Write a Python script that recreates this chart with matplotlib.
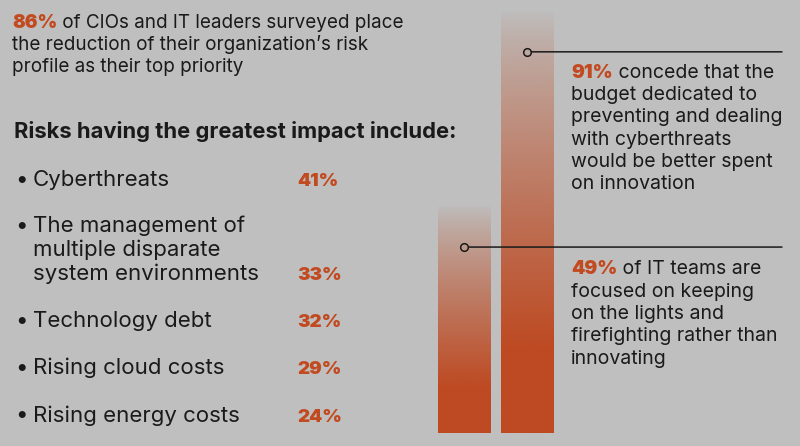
import numpy as np
import matplotlib
matplotlib.use("Agg")
import matplotlib.pyplot as plt

# --- data -------------------------------------------------------------
intro_pct = "86%"
intro_lines = ["of CIOs and IT leaders surveyed place",
               "the reduction of their organization\u2019s risk",
               "profile as their top priority"]
heading = "Risks having the greatest impact include:"

risk_labels = [["Cyberthreats"],
               ["The management of", "multiple disparate", "system environments"],
               ["Technology debt"],
               ["Rising cloud costs"],
               ["Rising energy costs"]]
risk_pcts = [41, 33, 32, 29, 24]

bar_values = [49, 91]
marker_levels = [40, 82]
callout_pcts = ["49%", "91%"]
callout_lines = [["of IT teams are", "focused on keeping", "on the lights and",
                  "firefighting rather than", "innovating"],
                 ["concede that the", "budget dedicated to", "preventing and dealing",
                  "with cyberthreats", "would be better spent", "on innovation"]]

# --- style ------------------------------------------------------------
BG = "#bfbfbf"
ORANGE = "#c24a20"
BAR = "#bd4a22"
INK = "#1a1a1a"
W, H = 800, 446
plt.rcParams["font.family"] = ["Inter", "DejaVu Sans"]

fig = plt.figure(figsize=(W / 100, H / 100), dpi=100, facecolor=BG)
ax_txt = fig.add_axes([0, 0, 1, 1])
ax_txt.set_axis_off()


def px(x, y):
    return x / W, 1 - y / H


def body(x, y, s, size, **kw):
    kw.setdefault("color", INK)
    return fig.text(*px(x, y), s, va="baseline", ha="left", fontsize=size, **kw)


def pct_then(x, y, pct, rest, size, pct_size):
    t = body(x, y, pct, pct_size, color=ORANGE, fontweight="black")
    ax_txt.annotate(" " + rest, xy=(1, 0), xycoords=t, va="bottom", ha="left",
                    fontsize=size, color=INK)
    return t


# left column
INTRO = 13.6
pct_then(12, 27.5, intro_pct, intro_lines[0], INTRO, INTRO)
body(12, 50, intro_lines[1], INTRO)
body(12, 72.5, intro_lines[2], INTRO)

body(14, 137.5, heading, 15.8, fontweight="bold")

ITEM = 16.0
row_base = [186, 280, 327, 374, 421.5]
line_gap = 23.8
for lines, pct, yb in zip(risk_labels, risk_pcts, row_base):
    y0 = yb - line_gap * (len(lines) - 1)
    body(15, y0, "\u2022", ITEM)
    for i, ln in enumerate(lines):
        body(33, y0 + i * line_gap, ln, ITEM)
    body(297, yb, f"{pct}%", 13.5, color=ORANGE, fontweight="black")

# --- bars -------------------------------------------------------------
bar_px_left, bar_px_right = 402, 589.5
bot_px, top_px = 433, 10
ax = fig.add_axes([bar_px_left / W, (H - bot_px) / H,
                   (bar_px_right - bar_px_left) / W, (bot_px - top_px) / H])
ax.set_axis_off()
ax.patch.set_alpha(0)

xs = np.arange(len(bar_values))
bars = ax.bar(xs, bar_values, width=0.84, color="none", edgecolor="none")

# vertical fade: transparent at the top of each bar, solid near the base
rgb = np.array(matplotlib.colors.to_rgb(BAR))
t = np.linspace(0, 1, 256)[:, None]          # 0 at top, 1 at bottom
alpha = np.clip(t / 0.8, 0, 1) ** 0.8
grad = np.zeros((256, 1, 4))
grad[..., :3] = rgb
grad[..., 3] = alpha
for rect in bars:
    x0, w, h = rect.get_x(), rect.get_width(), rect.get_height()
    im = ax.imshow(grad, extent=(x0, x0 + w, 0, h), aspect="auto",
                   interpolation="bilinear", zorder=1)
    im.set_clip_path(rect)

ax.set_xlim(-1, 2)
ax.set_ylim(0, max(bar_values))

# callout lines, markers and text
line_end = 782 / W
text_x = 571
text_first = [274.3, 77.7]
NOTE = 14.0
for xi, lvl, pct, lines, yb in zip(xs, marker_levels, callout_pcts,
                                   callout_lines, text_first):
    ax.annotate("", xy=(xi, lvl), xytext=(line_end, lvl),
                textcoords=("figure fraction", "data"),
                arrowprops=dict(arrowstyle="-", color=INK, lw=1.1,
                                shrinkA=0, shrinkB=3),
                annotation_clip=False, zorder=3)
    ax.plot(xi, lvl, "o", ms=5.5, mfc="none", mec=INK, mew=1.1,
            zorder=4, clip_on=False)
    pct_then(text_x, yb, pct, lines[0], NOTE, 13.8)
    for i, ln in enumerate(lines[1:], start=1):
        body(text_x, yb + i * 22.3, ln, NOTE)

fig.savefig("out.png", dpi=100, facecolor=BG)
